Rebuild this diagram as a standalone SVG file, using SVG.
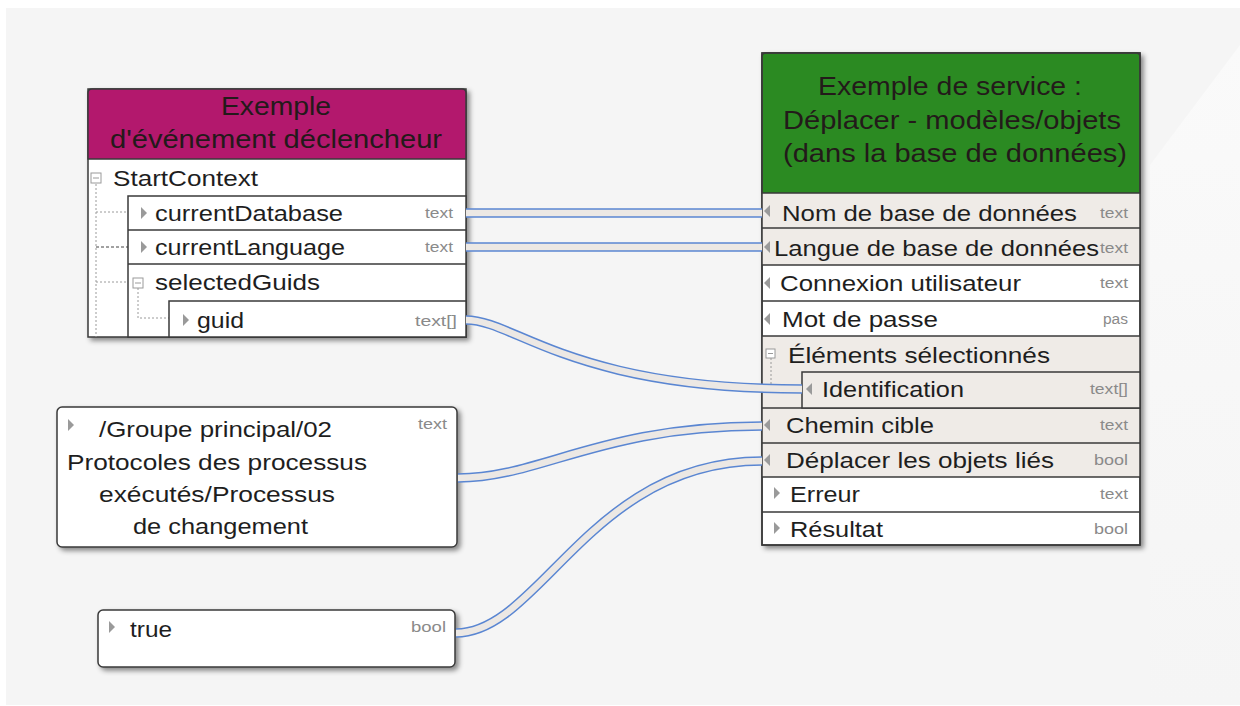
<svg xmlns="http://www.w3.org/2000/svg" width="1240" height="706" viewBox="0 0 1240 706">
<defs>
<filter id="sh" x="-10%" y="-10%" width="125%" height="125%">
<feDropShadow dx="3" dy="3" stdDeviation="2.5" flood-color="#000" flood-opacity="0.45"/>
</filter>
<linearGradient id="bgfade" x1="0" y1="0" x2="0" y2="1">
<stop offset="0" stop-color="#fafafa"/>
<stop offset="0.5" stop-color="#f7f7f7"/>
<stop offset="1" stop-color="#f5f5f5"/>
</linearGradient>
<style>
.lbl{font-family:"Liberation Sans",Arial,sans-serif;font-size:22px;fill:#1e1e1e}
.hdr{font-family:"Liberation Sans",Arial,sans-serif;font-size:26px;fill:#231a1a;text-anchor:middle}
.typ{font-family:"Liberation Sans",Arial,sans-serif;font-size:14px;fill:#8a8a8a;text-anchor:end}
.box{fill:#fff;stroke:#3a3a3a;stroke-width:1.5}
.sep{stroke:#3a3a3a;stroke-width:1.5}
.shd{fill:#efebe7}
.tri{fill:#9a9a9a}
.dot{stroke:#9a9a9a;stroke-width:1;stroke-dasharray:2,2;fill:none}
.ico{fill:#fff;stroke:#9a9a9a;stroke-width:1}
.wo{fill:none;stroke:#5a86d2;stroke-width:9.5}
.wi{fill:none;stroke:#ece8e4;stroke-width:6.5}
</style>
</defs>
<rect x="0" y="0" width="1240" height="706" fill="#ffffff"/>
<rect x="6" y="8" width="1234" height="697" fill="#f5f5f5"/>
<polygon points="1240,45 1150,165 1150,705 1240,705" fill="url(#bgfade)"/>

<g id="event-node">
<rect x="88" y="89" width="378" height="248" class="box" filter="url(#sh)"/>
<path d="M88,159 V93 Q88,89 92,89 H462 Q466,89 466,93 V159 Z" fill="#b3186d" stroke="#3a3a3a" stroke-width="1.5"/>
<text class="hdr" x="276" y="115" textLength="110" lengthAdjust="spacingAndGlyphs">Exemple</text>
<text class="hdr" x="276" y="148" textLength="332" lengthAdjust="spacingAndGlyphs">d'événement déclencheur</text>
<rect x="91" y="173" width="10" height="10" class="ico"/>
<line x1="93" y1="178" x2="99" y2="178" stroke="#9a9a9a"/>
<text class="lbl" x="113" y="186" textLength="145" lengthAdjust="spacingAndGlyphs">StartContext</text>
<path class="dot" d="M96,184 V337 M96,212 H128 M96,282 H133"/>
<path d="M96,247 H128" stroke="#444" stroke-width="1" stroke-dasharray="3,2"/>
<rect x="128" y="196" width="338" height="141" class="box"/>
<line x1="128" y1="230" x2="466" y2="230" class="sep"/>
<line x1="128" y1="264" x2="466" y2="264" class="sep"/>
<polygon class="tri" points="141,207 147,213 141,219"/>
<text class="lbl" x="155" y="221" textLength="188" lengthAdjust="spacingAndGlyphs">currentDatabase</text>
<text class="typ" x="453" y="218" textLength="28" lengthAdjust="spacingAndGlyphs">text</text>
<polygon class="tri" points="141,241 147,247 141,253"/>
<text class="lbl" x="155" y="255" textLength="190" lengthAdjust="spacingAndGlyphs">currentLanguage</text>
<text class="typ" x="453" y="252" textLength="28" lengthAdjust="spacingAndGlyphs">text</text>
<rect x="133" y="278" width="10" height="10" class="ico"/>
<line x1="135" y1="283" x2="141" y2="283" stroke="#9a9a9a"/>
<text class="lbl" x="155" y="290" textLength="165" lengthAdjust="spacingAndGlyphs">selectedGuids</text>
<path class="dot" d="M138,288 V318 H169"/>
<rect x="169" y="301" width="297" height="36" class="box"/>
<polygon class="tri" points="183,314 189,320 183,326"/>
<text class="lbl" x="197" y="328" textLength="47" lengthAdjust="spacingAndGlyphs">guid</text>
<text class="typ" x="457" y="326" textLength="42" lengthAdjust="spacingAndGlyphs">text[]</text>
</g>

<g id="service-node">
<rect x="762" y="53" width="378" height="492" class="box" filter="url(#sh)"/>
<rect x="762" y="193" width="378" height="72" class="shd"/>
<rect x="762" y="336" width="378" height="141" class="shd"/>
<path d="M762,193 V57 Q762,53 766,53 H1136 Q1140,53 1140,57 V193 Z" fill="#2b8a22" stroke="#3a3a3a" stroke-width="1.5"/>
<text class="hdr" x="950" y="95" textLength="264" lengthAdjust="spacingAndGlyphs">Exemple de service :</text>
<text class="hdr" x="952" y="129" textLength="338" lengthAdjust="spacingAndGlyphs">Déplacer - modèles/objets</text>
<text class="hdr" x="955" y="162" textLength="344" lengthAdjust="spacingAndGlyphs">(dans la base de données)</text>
<rect x="762" y="53" width="378" height="492" fill="none" stroke="#3a3a3a" stroke-width="1.5"/>
<g class="sep">
<line x1="762" y1="228" x2="1140" y2="228"/>
<line x1="762" y1="265" x2="1140" y2="265"/>
<line x1="762" y1="301" x2="1140" y2="301"/>
<line x1="762" y1="336" x2="1140" y2="336"/>
<line x1="762" y1="408" x2="1140" y2="408"/>
<line x1="762" y1="443" x2="1140" y2="443"/>
<line x1="762" y1="477" x2="1140" y2="477"/>
<line x1="762" y1="512" x2="1140" y2="512"/>
</g>
<polygon class="tri" points="770,205 764,211 770,217"/>
<text class="lbl" x="782" y="221" textLength="295" lengthAdjust="spacingAndGlyphs">Nom de base de données</text>
<text class="typ" x="1128" y="218" textLength="28" lengthAdjust="spacingAndGlyphs">text</text>
<polygon class="tri" points="770,241 764,247 770,253"/>
<text class="lbl" x="774" y="256" textLength="325" lengthAdjust="spacingAndGlyphs">Langue de base de données</text>
<text class="typ" x="1128" y="253" textLength="28" lengthAdjust="spacingAndGlyphs">text</text>
<polygon class="tri" points="770,277 764,283 770,289"/>
<text class="lbl" x="780" y="291" textLength="241" lengthAdjust="spacingAndGlyphs">Connexion utilisateur</text>
<text class="typ" x="1128" y="288" textLength="28" lengthAdjust="spacingAndGlyphs">text</text>
<polygon class="tri" points="770,313 764,319 770,325"/>
<text class="lbl" x="782" y="327" textLength="156" lengthAdjust="spacingAndGlyphs">Mot de passe</text>
<text class="typ" x="1128" y="324" textLength="25" lengthAdjust="spacingAndGlyphs">pas</text>
<rect x="766" y="349" width="9" height="9" class="ico"/>
<line x1="768" y1="353.5" x2="773" y2="353.5" stroke="#9a9a9a"/>
<text class="lbl" x="788" y="363" textLength="262" lengthAdjust="spacingAndGlyphs">Éléments sélectionnés</text>
<path class="dot" d="M771,358 V389 H802"/>
<rect x="802" y="372" width="338" height="36" class="shd" stroke="#3a3a3a" stroke-width="1.5"/>
<polygon class="tri" points="812,383 806,389 812,395"/>
<text class="lbl" x="822" y="397" textLength="142" lengthAdjust="spacingAndGlyphs">Identification</text>
<text class="typ" x="1128" y="394" textLength="38" lengthAdjust="spacingAndGlyphs">text[]</text>
<polygon class="tri" points="770,419 764,425 770,431"/>
<text class="lbl" x="786" y="433" textLength="148" lengthAdjust="spacingAndGlyphs">Chemin cible</text>
<text class="typ" x="1128" y="430" textLength="28" lengthAdjust="spacingAndGlyphs">text</text>
<polygon class="tri" points="770,454 764,460 770,466"/>
<text class="lbl" x="786" y="468" textLength="268" lengthAdjust="spacingAndGlyphs">Déplacer les objets liés</text>
<text class="typ" x="1128" y="465" textLength="34" lengthAdjust="spacingAndGlyphs">bool</text>
<polygon class="tri" points="774,487 780,493 774,499"/>
<text class="lbl" x="790" y="502" textLength="70" lengthAdjust="spacingAndGlyphs">Erreur</text>
<text class="typ" x="1128" y="499" textLength="28" lengthAdjust="spacingAndGlyphs">text</text>
<polygon class="tri" points="774,522 780,528 774,534"/>
<text class="lbl" x="790" y="537" textLength="93" lengthAdjust="spacingAndGlyphs">Résultat</text>
<text class="typ" x="1128" y="534" textLength="34" lengthAdjust="spacingAndGlyphs">bool</text>
</g>

<g id="path-node">
<rect x="57" y="407" width="400" height="140" rx="5" class="box" filter="url(#sh)"/>
<polygon class="tri" points="68,419 74,425 68,431"/>
<text class="lbl" x="99" y="437" textLength="233" lengthAdjust="spacingAndGlyphs">/Groupe principal/02</text>
<text class="lbl" x="67" y="470" textLength="300" lengthAdjust="spacingAndGlyphs">Protocoles des processus</text>
<text class="lbl" x="99" y="502" textLength="236" lengthAdjust="spacingAndGlyphs">exécutés/Processus</text>
<text class="lbl" x="133" y="534" textLength="175" lengthAdjust="spacingAndGlyphs">de changement</text>
<text class="typ" x="447" y="429" textLength="29" lengthAdjust="spacingAndGlyphs">text</text>
</g>

<g id="true-node">
<rect x="98" y="610" width="357" height="57" rx="5" class="box" filter="url(#sh)"/>
<polygon class="tri" points="109,621 115,627 109,633"/>
<text class="lbl" x="130" y="637" textLength="42" lengthAdjust="spacingAndGlyphs">true</text>
<text class="typ" x="446" y="632" textLength="35" lengthAdjust="spacingAndGlyphs">bool</text>
</g>

<g id="connectors">
<path class="wo" d="M466,213 H762"/>
<path class="wi" d="M466,213 H762"/>
<path class="wo" d="M466,247 H762"/>
<path class="wi" d="M466,247 H762"/>
<path class="wo" d="M466,320 C515,320 570,389 802,389"/>
<path class="wi" d="M466,320 C515,320 570,389 802,389"/>
<path class="wo" d="M458,478 C540,478 600,426 762,426"/>
<path class="wi" d="M458,478 C540,478 600,426 762,426"/>
<path class="wo" d="M456,633 C540,633 590,461 762,461"/>
<path class="wi" d="M456,633 C540,633 590,461 762,461"/>
</g>
</svg>
